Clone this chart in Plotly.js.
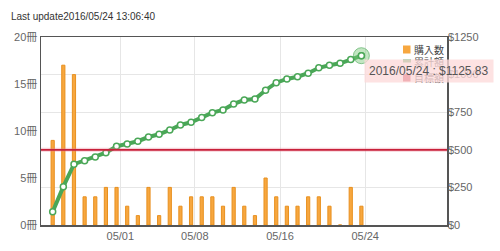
<!DOCTYPE html>
<html>
<head>
<meta charset="utf-8">
<script src="https://cdn.plot.ly/plotly-3.0.1.min.js"></script>
<style>html,body{margin:0;padding:0;background:#fff;}#chart{width:500px;height:251px;}</style>
</head>
<body>
<div id="chart"></div>
<script>
// ---- data ----
const dates = ['2016-04-25','2016-04-26','2016-04-27','2016-04-28','2016-04-29','2016-04-30',
  '2016-05-01','2016-05-02','2016-05-03','2016-05-04','2016-05-05','2016-05-06','2016-05-07',
  '2016-05-08','2016-05-09','2016-05-10','2016-05-11','2016-05-12','2016-05-13','2016-05-14',
  '2016-05-15','2016-05-16','2016-05-17','2016-05-18','2016-05-19','2016-05-20','2016-05-21',
  '2016-05-22','2016-05-23','2016-05-24'];
const purchases = [9,17,16,3,3,4,4,2,1,4,1,4,2,3,3,3,2,4,2,1,5,3,2,2,3,3,2,0,4,2];
const cumulative = [88,255,404,428,452,481,523,539,557,585,603,632,665,683,714,747,765,805,831,838,
  896,946,971,986,1009,1045,1062,1075,1100,1125.83];
const target = 500;
const tickLabels = ['05/01','05/08','05/16','05/24'];
const tickDates = ['2016-05-01','2016-05-08','2016-05-16','2016-05-24'];
const seriesNames = ['購入数','累計額','目標額'];
const seriesColors = ['#f7a73f','#4aa757','#c8203a'];
const updated = '2016/05/24 13:06:40';

const font = '"Liberation Sans", Arial, "Noto Sans CJK JP", sans-serif';
const lastDate = dates[dates.length-1];
const lastVal = cumulative[cumulative.length-1];

// plot-area geometry helpers (pixels -> paper fractions)
const M = {l:41, r:53, t:37, b:26};
const PW = 500 - M.l - M.r, PH = 251 - M.t - M.b;
const px = v => (v - M.l) / PW;
const py = v => (251 - M.b - v) / PH;

const traces = [
  {type:'bar', x:dates, y:purchases, name:seriesNames[0], yaxis:'y', showlegend:false,
   width:0.3*86400000,
   marker:{color:seriesColors[0], line:{color:'#e8901f', width:1}}, hoverinfo:'skip'},
  {type:'scatter', mode:'lines+markers', x:dates, y:cumulative, name:seriesNames[1], yaxis:'y2',
   showlegend:false,
   line:{color:seriesColors[1], width:4},
   marker:{color:'#ffffff', size:6, line:{color:seriesColors[1], width:1.5}}, hoverinfo:'skip'},
  {type:'scatter', mode:'markers', x:dates.slice(-1), y:cumulative.slice(-1), yaxis:'y2',
   showlegend:false, hoverinfo:'skip',
   marker:{color:'rgba(120,200,120,0.45)', size:16, line:{color:'rgba(74,167,87,0.6)', width:1}}},
  {type:'scatter', mode:'markers', x:dates.slice(-1), y:cumulative.slice(-1), yaxis:'y2',
   showlegend:false, hoverinfo:'skip',
   marker:{color:'#ffffff', size:6, line:{color:seriesColors[1], width:1.5}}}
];

// manual compact legend
const legendRows = [49.5, 62.5, 77.5];
const legendShapes = [
  {type:'rect', xref:'paper', yref:'paper', x0:px(403), x1:px(410.5), y0:py(legendRows[0]-4), y1:py(legendRows[0]+4),
   fillcolor:seriesColors[0], line:{width:0}, layer:'above'},
  {type:'line', xref:'paper', yref:'paper', x0:px(403), x1:px(411), y0:py(legendRows[1]-1.5), y1:py(legendRows[1]-1.5),
   line:{color:seriesColors[1], width:3}, layer:'above'},
  {type:'rect', xref:'paper', yref:'paper', x0:px(403), x1:px(410.5), y0:py(legendRows[2]-3.5), y1:py(legendRows[2]+4),
   fillcolor:seriesColors[2], line:{width:0}, layer:'above'}
];
const legendTexts = seriesNames.map((n,i)=>({
  xref:'paper', yref:'paper', x:px(412), y:py(legendRows[i]), xanchor:'left', yanchor:'middle',
  showarrow:false, text:n, font:{family:font, size:10, color:'#444'}
}));

const layout = {
  width:500, height:251,
  margin:M,
  paper_bgcolor:'#fff', plot_bgcolor:'#fff',
  font:{family:font, size:11, color:'#555'},
  title:{text:'Last update'+updated, x:11/500, xref:'container', xanchor:'left',
         y:1-16.5/251, yref:'container', yanchor:'middle', font:{family:font, size:10, color:'#333'}},
  showlegend:false,
  bargap:0,
  xaxis:{type:'date', range:['2016-04-23 21:40','2016-06-01 01:00'],
         tickvals:tickDates.map(d=>d+' 08:30'), ticktext:tickLabels,
         showgrid:true, gridcolor:'#e6e6e6', gridwidth:1,
         showline:true, linecolor:'#555', linewidth:1.5, mirror:true,
         ticks:'', tickfont:{size:11, color:'#666'}, zeroline:false},
  yaxis:{range:[0,20], dtick:5, ticksuffix:'冊', showgrid:false, zeroline:false,
         showline:true, linecolor:'#555', linewidth:1.5, mirror:true,
         ticks:'', tickfont:{size:11, color:'#666'}},
  yaxis2:{range:[0,1250], dtick:250, tickprefix:'$', overlaying:'y', side:'right',
          showgrid:true, gridcolor:'#e6e6e6', zeroline:false,
          showline:false, ticks:'', tickfont:{size:11, color:'#666'}},
  shapes:[
    {type:'line', xref:'paper', x0:0, x1:1, yref:'y2', y0:target, y1:target,
     line:{color:'rgba(230,120,140,0.35)', width:4}, layer:'above'},
    {type:'line', xref:'paper', x0:0, x1:1, yref:'y2', y0:target, y1:target,
     line:{color:seriesColors[2], width:1.8}, layer:'above'}
  ].concat(legendShapes),
  annotations: legendTexts.concat([
    {x:lastDate, y:lastVal, xref:'x', yref:'y2', showarrow:false,
     xanchor:'left', yanchor:'middle', xshift:3, yshift:-15.5,
     text:lastDate.replace(/-/g,'/')+' : $'+lastVal.toFixed(2),
     font:{family:font, size:12, color:'#555'},
     bgcolor:'rgba(252,218,218,0.78)', borderpad:4}
  ])
};

Plotly.newPlot('chart', traces, layout, {displayModeBar:false, staticPlot:true});
</script>
</body>
</html>
